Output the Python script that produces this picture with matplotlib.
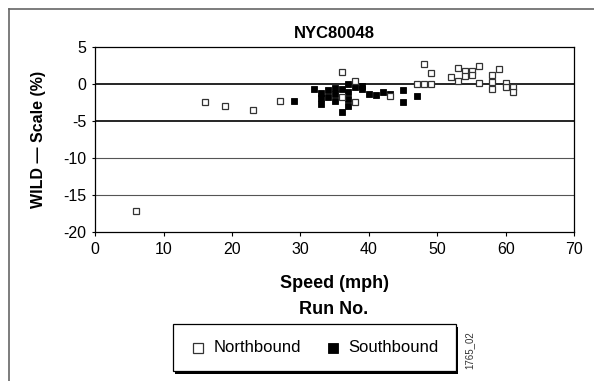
import matplotlib
matplotlib.use("Agg")
import matplotlib.pyplot as plt
from matplotlib.lines import Line2D
from matplotlib.patches import Rectangle

plt.rcParams['font.family'] = ['Liberation Sans', 'DejaVu Sans']
plt.rcParams['axes.unicode_minus'] = False

title = "NYC80048"
xlabel = "Speed (mph)"
ylabel = "WILD \u2014 Scale (%)"
sublabel = "Run No."
note = "1765_02"
xticks = [0, 10, 20, 30, 40, 50, 60, 70]
yticks = [5, 0, -5, -10, -15, -20]

north_speed = [6, 16, 19, 23, 27, 36, 36, 38, 38, 43, 47, 48, 48, 49, 49, 52, 53, 53,
               54, 54, 55, 55, 56, 56, 58, 58, 58, 59, 60, 60, 61, 61]
north_scale = [-17.1, -2.35, -2.95, -3.45, -2.2, 1.6, -1.75, 0.45, -2.35, -1.55, 0.1, 2.7,
               0.1, 1.5, 0.1, 1.0, 2.15, 0.45, 1.85, 1.1, 1.8, 1.25, 2.5, 0.2, 1.3, 0.35,
               -0.7, 2.0, 0.2, -0.3, -0.4, -1.0]

south_speed = [29, 32, 33, 33, 33, 34, 34, 35, 35, 35, 36, 36, 37, 37, 37, 37, 38, 39, 39,
               40, 41, 42, 43, 45, 45, 47]
south_scale = [-2.2, -0.65, -1.2, -1.9, -2.6, -0.8, -1.7, -0.45, -1.35, -2.25, -0.65, -3.8,
               0.0, -1.0, -2.0, -2.9, -0.4, -0.2, -0.6, -1.3, -1.5, -1.0, -1.3, -0.8, -2.45,
               -1.55]

fig = plt.figure(figsize=(5.94, 3.81), dpi=100)
ax = fig.add_axes([0.16, 0.3903, 0.807, 0.4856])

for yv in [0, -5]:
    ax.axhline(yv, color='black', lw=1.2, zorder=1)
for yv in [-10, -15]:
    ax.axhline(yv, color='#555555', lw=0.8, zorder=1)

ax.plot(south_speed, south_scale, linestyle='none', marker='s', ms=4.6,
        mfc='black', mec='black', mew=0.6, zorder=3)
ax.plot(north_speed, north_scale, linestyle='none', marker='s', ms=4.4,
        mfc='white', mec='#333333', mew=0.9, zorder=4)

ax.set_xlim(0, 70)
ax.set_ylim(-20, 5)
ax.set_xticks(xticks)
ax.set_yticks(yticks)
ax.tick_params(axis='both', labelsize=11.5, length=3, width=0.8, direction='out', pad=4)
ax.tick_params(axis='y', length=2)
for sp in ax.spines.values():
    sp.set_linewidth(0.9)

ax.set_title(title, fontsize=12, fontweight='bold', pad=7)
ax.set_xlabel(xlabel, fontsize=13, fontweight='bold', labelpad=13)
ax.set_ylabel(ylabel, fontsize=11.5, fontweight='bold', labelpad=13)

fig.text(334 / 594, 1 - 310 / 381, sublabel, fontsize=13, fontweight='bold',
         ha='center', va='center')

# Legend box with shadow
lx0, ly0, lx1, ly1 = 172.7, 324.3, 455.7, 371
W, H = 594, 381
shadow = Rectangle((lx0 / W + 2.5 / W, 1 - (ly1 + 2.5) / H), (lx1 - lx0) / W, (ly1 - ly0) / H,
                   transform=fig.transFigure, facecolor='black', edgecolor='black', lw=0)
box = Rectangle((lx0 / W, 1 - ly1 / H), (lx1 - lx0) / W, (ly1 - ly0) / H,
                transform=fig.transFigure, facecolor='white', edgecolor='black', lw=0.9)
fig.patches.extend([shadow, box])
ymid = 1 - 347.5 / H
fig.add_artist(Line2D([197.7 / W], [ymid], marker='s', ms=6.5, mfc='white', mec='#333333',
                      mew=0.9, linestyle='none', transform=fig.transFigure))
fig.text(214 / W, ymid, "Northbound", fontsize=12, ha='left', va='center')
fig.add_artist(Line2D([333 / W], [ymid], marker='s', ms=6.5, mfc='black', mec='black',
                      mew=0.6, linestyle='none', transform=fig.transFigure))
fig.text(348 / W, ymid, "Southbound", fontsize=12, ha='left', va='center')

fig.text(469 / W, 1 - 350 / H, note, fontsize=7, rotation=90, ha='center', va='center',
         color='#333333')

# outer frame (left and top)
fig.add_artist(Line2D([9 / W, 9 / W], [0, 1 - 9 / H], color='#666666', lw=1.2,
                      transform=fig.transFigure))
fig.add_artist(Line2D([9 / W, 1], [1 - 9 / H, 1 - 9 / H], color='#666666', lw=1.2,
                      transform=fig.transFigure))

fig.savefig("out.png", dpi=100)
